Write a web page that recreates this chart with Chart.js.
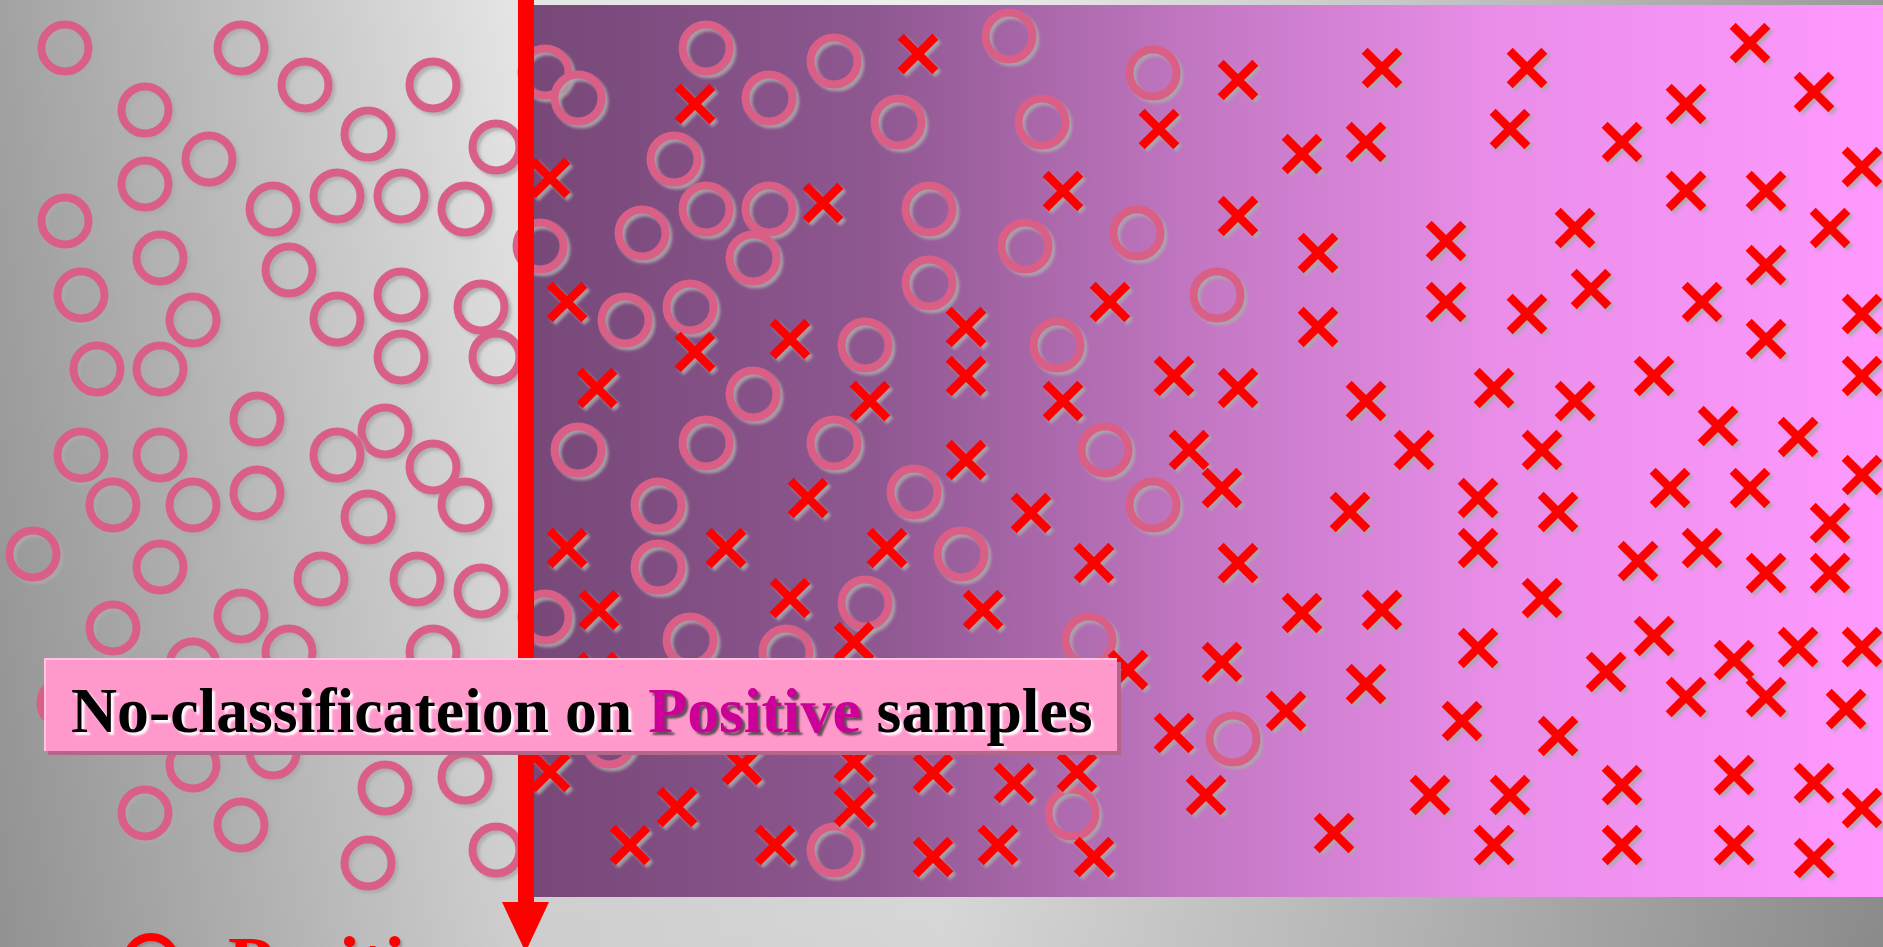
<!DOCTYPE html>
<html><head><meta charset="utf-8">
<script src="https://cdn.jsdelivr.net/npm/chart.js@4/dist/chart.umd.min.js"></script>
<style>html,body{margin:0;padding:0;overflow:hidden;background:#bbb}canvas{display:block}</style>
</head><body>
<canvas id="c" width="1883" height="947"></canvas>
<script>
// Positive samples (circles) – [x, y] in picture units
const positiveGray = [
 [65,48],[241,48],[305,85],[433,85],[145,110],[368,134],[496,147],[209,159],[145,184],[273,209],
 [337,196],[401,196],[465,209],[65,221],[160,258],[289,270],[81,295],[401,295],[481,307],[193,320],
 [337,319],[401,357],[496,357],[97,369],[160,369],[257,419],[385,431],[81,455],[160,455],[337,455],
 [433,467],[113,505],[193,505],[257,493],[368,517],[465,505],[33,554],[160,567],[321,579],[417,579],
 [481,591],[241,616],[113,628],[289,652],[193,665],[433,652],[64,703],[193,765],[273,752],[385,788],
 [465,777],[145,813],[241,825],[368,863],[496,850],[545,72],[540,246],[545,617]
];
const positivePurple = [
 [578,98],[706,48],[769,98],[834,61],[1009,36],[898,122],[1153,73],[1042,122],[674,159],[706,209],
 [769,209],[642,233],[753,258],[929,209],[1025,246],[1137,233],[929,283],[625,320],[690,307],[865,345],
 [1057,345],[1217,295],[753,394],[578,450],[706,443],[834,443],[1105,450],[914,492],[658,505],[1153,505],
 [658,567],[961,554],[865,603],[690,640],[786,652],[1089,640],[609,741],[1072,813],[834,850],[1233,739]
];
// Negative samples (crosses)
const negativeMid = [
 [918,54],[695,104],[550,178],[823,203],[1063,191],[1159,129],[567,302],[1110,302],[790,339],[695,352],
 [966,327],[966,376],[597,388],[870,401],[1063,401],[1174,376],[966,460],[1189,450],
 [808,498],[567,548],[726,548],[887,548],[1031,513],[1094,563],[790,598],[599,610],[983,610],[854,642],
 [598,672],[1128,670],[1174,733],[550,772],[742,765],[854,762],[933,773],[1014,783],[1077,772],[1206,795],
 [677,807],[854,807],[630,845],[775,845],[933,857],[998,845],[1094,857]
];
const negativeRight = [
 [1238,80],[1382,68],[1527,68],[1750,43],[1686,104],[1814,92],[1302,154],[1366,142],[1510,129],[1622,142],
 [1862,167],[1238,216],[1686,191],[1766,191],[1575,228],[1830,228],[1318,253],[1446,241],[1766,265],[1446,302],
 [1527,314],[1591,289],[1702,302],[1862,314],[1318,327],[1766,339],[1238,388],[1366,401],[1494,388],[1575,401],
 [1654,376],[1862,376],[1718,426],[1798,437],[1414,450],[1542,450],[1862,475],
 [1222,488],[1350,512],[1478,498],[1558,512],[1670,488],[1750,488],[1830,523],[1478,548],[1638,561],
 [1702,548],[1766,573],[1830,573],[1238,563],[1302,613],[1382,610],[1542,598],[1222,662],[1366,684],[1286,711],
 [1478,648],[1606,672],[1654,636],[1734,660],[1798,647],[1862,647],[1686,697],[1766,697],[1846,709],[1462,721],
 [1558,736],[1430,795],[1510,795],[1622,785],[1734,775],[1814,783],[1862,808],[1334,833],[1494,845],[1622,845],
 [1734,845],[1814,858]
];
const titleParts = ["No-classificateion on ", "Positive", " samples"];
const legendLabel = "Positive";

const toPts = a => a.map(([x,y]) => ({x, y}));

const bgPlugin = {
  id: 'bg',
  beforeDraw(chart) {
    const {ctx, width, height} = chart;
    const xs = chart.scales.x, ys = chart.scales.y;
    ctx.save();
    let g = ctx.createLinearGradient(0,0,width,0);
    g.addColorStop(0,'#a2a2a2'); g.addColorStop(0.27,'#e4e4e4'); g.addColorStop(0.5,'#eeeeee');
    g.addColorStop(0.75,'#c6c6c6'); g.addColorStop(1,'#9a9a9a');
    ctx.fillStyle = g; ctx.fillRect(0,0,width,height);
    let v = ctx.createLinearGradient(0,0,0,height);
    v.addColorStop(0,'rgba(0,0,0,0)'); v.addColorStop(1,'rgba(0,0,0,0.1)');
    ctx.fillStyle = v; ctx.fillRect(0,0,width,height);
    const x0 = xs.getPixelForValue(534), x1 = xs.getPixelForValue(1883);
    const y0 = ys.getPixelForValue(5), y1 = ys.getPixelForValue(897);
    let p = ctx.createLinearGradient(x0,0,x1,0);
    p.addColorStop(0,'#774878'); p.addColorStop(0.25,'#8e5790'); p.addColorStop(0.5,'#c478c4');
    p.addColorStop(0.72,'#ea8eea'); p.addColorStop(1,'#ff99ff');
    ctx.fillStyle = p; ctx.fillRect(x0,y0,x1-x0,y1-y0);
    ctx.restore();
  },
  beforeDatasetsDraw(chart) {
    const ctx = chart.ctx;
    ctx.save();
    ctx.shadowColor = 'rgba(170,170,170,0.85)';
    ctx.shadowOffsetX = 3; ctx.shadowOffsetY = 3; ctx.shadowBlur = 3;
  },
  afterDatasetsDraw(chart) {
    const ctx = chart.ctx;
    ctx.restore();
    ctx.save();
    // red arrow
    ctx.fillStyle = '#ff0000';
    ctx.fillRect(518, 0, 16, 904);
    ctx.beginPath(); ctx.moveTo(502,902); ctx.lineTo(549,902); ctx.lineTo(525.5,952); ctx.closePath(); ctx.fill();
    // label box
    const bx = 44, by = 658, bw = 1073, bh = 93;
    ctx.fillStyle = '#b3658a'; ctx.fillRect(bx+4, by+4, bw, bh);
    ctx.fillStyle = '#ff99cc'; ctx.fillRect(bx, by, bw, bh);
    ctx.fillStyle = '#ffc4e2'; ctx.fillRect(bx, by, bw, 2); ctx.fillRect(bx, by, 2, bh);
    // title text
    let size = 64;
    ctx.font = `bold ${size}px "Liberation Serif", "Times New Roman", serif`;
    const full = ctx.measureText(titleParts.join('')).width;
    size = size * 1022 / full;
    ctx.font = `bold ${size}px "Liberation Serif", "Times New Roman", serif`;
    let tx = 71; const ty = 732;
    ctx.textBaseline = 'alphabetic';
    titleParts.forEach((t, i) => {
      if (i === 1) {
        ctx.shadowColor = 'rgba(60,60,60,0.8)'; ctx.fillStyle = '#cc0099';
      } else {
        ctx.shadowColor = 'rgba(255,255,255,0.95)'; ctx.fillStyle = '#000000';
      }
      ctx.shadowOffsetX = 3; ctx.shadowOffsetY = 3; ctx.shadowBlur = 2;
      ctx.fillText(t, tx, ty);
      tx += ctx.measureText(t).width;
    });
    // legend (cut at bottom)
    ctx.shadowColor = 'rgba(120,120,120,0.6)'; ctx.shadowOffsetX = 2; ctx.shadowOffsetY = 2; ctx.shadowBlur = 2;
    ctx.strokeStyle = '#ff0000'; ctx.lineWidth = 8;
    ctx.beginPath(); ctx.arc(151, 961, 24, 0, Math.PI*2); ctx.stroke();
    ctx.fillStyle = '#ff0000';
    ctx.font = 'bold 74px "Liberation Serif", "Times New Roman", serif';
    ctx.fillText(legendLabel, 228, 988);
    ctx.restore();
  }
};

new Chart(document.getElementById('c'), {
  type: 'scatter',
  data: {
    datasets: [
      { label: 'Negative', data: toPts(negativeMid.concat(negativeRight)), pointStyle: 'crossRot',
        pointRadius: 24.5, pointBorderWidth: 8.5, pointBorderColor: '#ff0000', pointBackgroundColor: '#ff0000',
        showLine: false, order: 0, clip: false },
      { label: 'Positive', data: toPts(positiveGray.concat(positivePurple)), pointStyle: 'circle',
        pointRadius: 23.5, pointBorderWidth: 8, pointBorderColor: '#d95f87', pointBackgroundColor: 'rgba(0,0,0,0)',
        showLine: false, order: 1, clip: false }
    ]
  },
  options: {
    responsive: false, animation: false, events: [],
    layout: { padding: 0, autoPadding: false },
    plugins: { legend: { display: false }, tooltip: { enabled: false } },
    scales: {
      x: { type: 'linear', min: 0, max: 1883, display: false },
      y: { type: 'linear', min: 0, max: 947, reverse: true, display: false }
    }
  },
  plugins: [bgPlugin]
});
</script>
</body></html>
